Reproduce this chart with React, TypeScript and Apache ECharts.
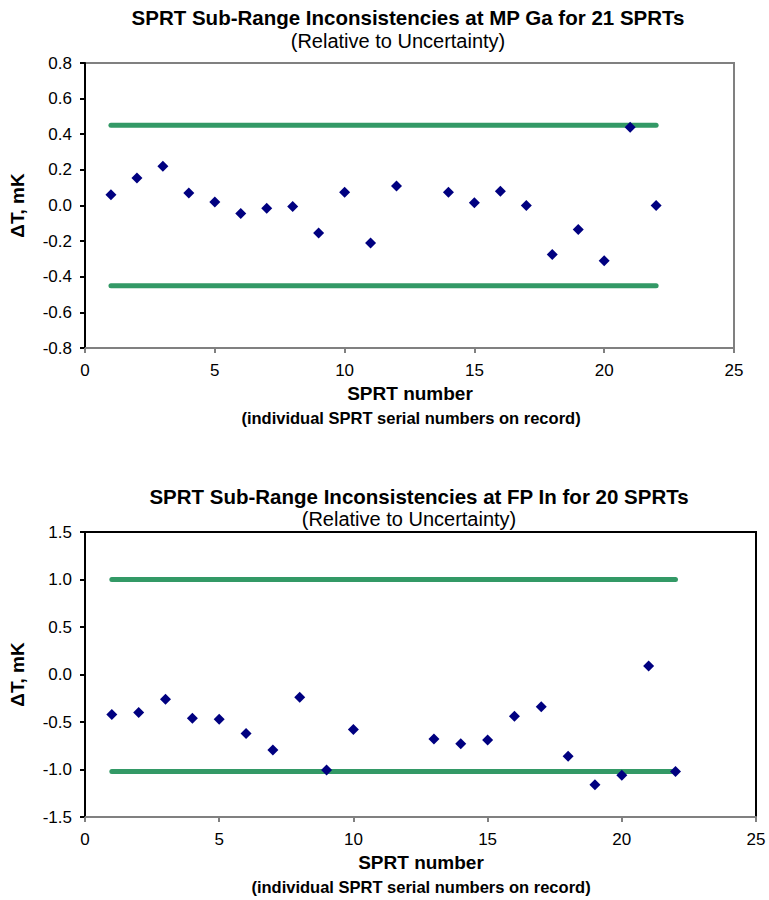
import React, { useEffect, useRef } from "react";
import * as echarts from "echarts";

// Top chart: MP Ga, 21 SPRTs
const topSprt = [1, 2, 3, 4, 5, 6, 7, 8, 9, 10, 11, 12, 14, 15, 16, 17, 18, 19, 20, 21, 22];
const topDelta = [0.06, 0.155, 0.22, 0.07, 0.02, -0.045, -0.015, -0.005, -0.155, 0.075, -0.21, 0.11, 0.075, 0.015, 0.08, 0.0, -0.275, -0.135, -0.31, 0.44, 0.0];
const topUpper = 0.45;
const topLower = -0.45;

// Bottom chart: FP In, 20 SPRTs
const botSprt = [1, 2, 3, 4, 5, 6, 7, 8, 9, 10, 13, 14, 15, 16, 17, 18, 19, 20, 21, 22];
const botDelta = [-0.42, -0.4, -0.26, -0.46, -0.47, -0.62, -0.795, -0.24, -1.005, -0.58, -0.68, -0.73, -0.69, -0.44, -0.34, -0.86, -1.16, -1.06, 0.09, -1.02];
const botUpper = 1.0;
const botLower = -1.02;

const limitRange = [1, 22];

const titles = [
  "SPRT Sub-Range Inconsistencies at MP Ga for 21 SPRTs",
  "SPRT Sub-Range Inconsistencies at FP In for 20 SPRTs",
];
const subtitle = "(Relative to Uncertainty)";
const xName = "SPRT number";
const xSubName = "(individual SPRT serial numbers on record)";
const yName = "ΔT, mK";

const FONT = "'Liberation Sans', Arial, Helvetica, sans-serif";
const GREEN = "#339966";
const NAVY = "#000080";

function mkTitle(text: string, left: number, top: number, size: number, bold: boolean) {
  return {
    text,
    left,
    top,
    textAlign: "center",
    padding: 0,
    textStyle: { fontFamily: FONT, fontSize: size, fontWeight: bold ? "bold" : "normal", color: "#000", lineHeight: size },
  };
}

export default function App() {
  const ref = useRef<HTMLDivElement>(null);
  useEffect(() => {
    if (!ref.current) return;
    const chart = echarts.init(ref.current, null, { renderer: "svg" });

    const xAxisBase = (gridIndex: number) => ({
      type: "value",
      gridIndex,
      min: 0,
      max: 25,
      interval: 5,
      axisLine: { show: true, onZero: false, lineStyle: { color: "#808080", width: 2 } },
      axisTick: { show: true, length: 5, lineStyle: { color: "#808080", width: 2 } },
      axisLabel: { fontFamily: FONT, fontSize: 17, color: "#000", margin: 14 },
      splitLine: { show: false },
    });

    const yAxisBase = (gridIndex: number, min: number, max: number, interval: number) => ({
      type: "value",
      gridIndex,
      min,
      max,
      interval,
      name: yName,
      nameLocation: "middle",
      nameRotate: 90,
      nameGap: 58,
      nameTextStyle: { fontFamily: FONT, fontSize: 19, fontWeight: "bold", color: "#000" },
      axisLine: { show: true, onZero: false, lineStyle: { color: "#000", width: 2 } },
      axisTick: { show: true, length: 5, lineStyle: { color: "#000", width: 2 } },
      axisLabel: {
        fontFamily: FONT,
        fontSize: 17,
        color: "#000",
        margin: 13,
        formatter: (v: number) => v.toFixed(1),
      },
      splitLine: { show: false },
    });

    const limitSeries = (idx: number, val: number) => ({
      type: "line",
      xAxisIndex: idx,
      yAxisIndex: idx,
      data: [
        [limitRange[0], val],
        [limitRange[1], val],
      ],
      symbol: "none",
      lineStyle: { color: GREEN, width: 5, cap: "round" },
      z: 2,
    });

    const scatterSeries = (idx: number, xs: number[], ys: number[]) => ({
      type: "scatter",
      xAxisIndex: idx,
      yAxisIndex: idx,
      data: xs.map((x, i) => [x, ys[i]]),
      symbol: "diamond",
      symbolSize: 11,
      itemStyle: { color: NAVY, opacity: 1 },
      z: 3,
    });

    chart.setOption({
      animation: false,
      backgroundColor: "#fff",
      title: [
        mkTitle(titles[0], 408, 7, 20.5, true),
        mkTitle(subtitle, 398, 31, 20, false),
        mkTitle(xName, 410, 384, 19, true),
        mkTitle(xSubName, 411, 410, 16.5, true),
        mkTitle(titles[1], 419, 486, 20.5, true),
        mkTitle(subtitle, 409, 509, 20, false),
        mkTitle(xName, 421, 853, 19, true),
        mkTitle(xSubName, 421, 879, 16.5, true),
      ],
      grid: [
        { left: 82, top: 63, width: 652, height: 285, show: true, borderColor: "#808080", borderWidth: 2, backgroundColor: "#fff" },
        { left: 82, top: 532, width: 674, height: 285, show: true, borderColor: "#000", borderWidth: 2, backgroundColor: "#fff" },
      ],
      xAxis: [xAxisBase(0), xAxisBase(1)],
      yAxis: [yAxisBase(0, -0.8, 0.8, 0.2), yAxisBase(1, -1.5, 1.5, 0.5)],
      series: [
        limitSeries(0, topUpper),
        limitSeries(0, topLower),
        scatterSeries(0, topSprt, topDelta),
        limitSeries(1, botUpper),
        limitSeries(1, botLower),
        scatterSeries(1, botSprt, botDelta),
      ],
    });
    return () => chart.dispose();
  }, []);
  return (
    <div
      ref={ref}
      style={{ position: "absolute", left: 0, top: 0, width: 769, height: 900 }}
    />
  );
}
